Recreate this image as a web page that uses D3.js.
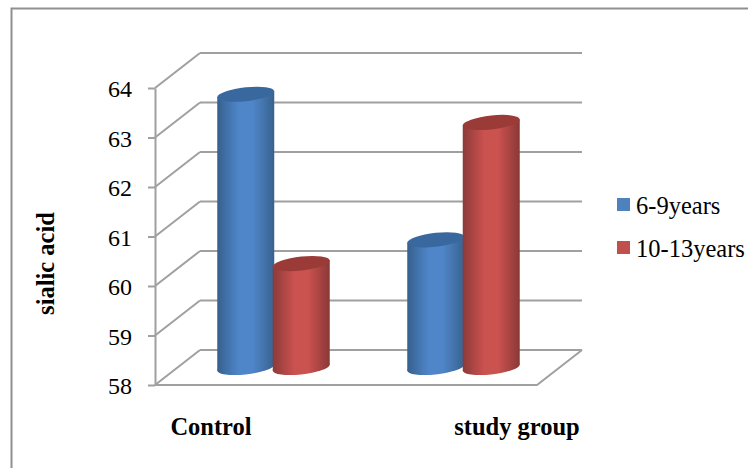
<!DOCTYPE html>
<html>
<head>
<meta charset="utf-8">
<script src="https://cdn.jsdelivr.net/npm/d3@7"></script>
<style>
  html, body { margin: 0; padding: 0; background: #fff; overflow: hidden; }
  text { font-family: "Liberation Serif", serif; fill: #000; }
</style>
</head>
<body>
<div id="chart"></div>
<script>
// DATA
const categories = ["Control", "study group"];
const seriesNames = ["6-9years", "10-13years"];
const youngValues = [63.52, 60.58];
const olderValues = [60.1, 62.95];
const tickValues = [58, 59, 60, 61, 62, 63, 64];

const width = 748, height = 468;
const gridColor = "#a0a0a0";

// fake 3d depth of the chart box
const depthX = 45, depthY = -35;

const svg = d3.select("#chart").append("svg")
  .attr("width", width)
  .attr("height", height);

const defs = svg.append("defs");

const seriesColors = [
  { side: ["#36608f", "#4f86c9", "#4f86c9", "#38628f"], top: "#38689e", key: "#4f81bd" },
  { side: ["#8c3a38", "#cb5250", "#cb5250", "#8a3836"], top: "#9a3a37", key: "#c0504d" }
];

seriesColors.forEach((c, i) => {
  const grad = defs.append("linearGradient").attr("id", "side" + i);
  grad.selectAll("stop")
    .data([0, 0.38, 0.62, 1])
    .join("stop")
    .attr("offset", d => d)
    .attr("stop-color", (d, j) => c.side[j]);
});

defs.append("filter").attr("id", "soft")
  .append("feGaussianBlur").attr("stdDeviation", 0.45);

// outer frame, only top and left show up
svg.append("path")
  .attr("d", `M11.5,${height} V8.5 H${width}`)
  .attr("fill", "none")
  .attr("stroke", "#8f8f8f")
  .attr("stroke-width", 2);

// SCALES
const y = d3.scaleLinear().domain([58, 64]).range([385, 88]);
const x = d3.scaleBand().domain(categories).range([156, 536]);
const barWidth = 57;
const inner = d3.scaleBand().domain(seriesNames).range([-55.5, 55.5]);

// WALLS
const walls = svg.append("g")
  .attr("fill", "none")
  .attr("stroke", gridColor)
  .attr("stroke-width", 2);

walls.selectAll(".back")
  .data(tickValues)
  .join("line")
  .attr("class", "back")
  .attr("x1", 155 + depthX)
  .attr("x2", 537 + depthX)
  .attr("y1", d => y(d) + depthY)
  .attr("y2", d => y(d) + depthY);

walls.selectAll(".side")
  .data(tickValues)
  .join("line")
  .attr("class", "side")
  .attr("x1", 155)
  .attr("x2", 155 + depthX)
  .attr("y1", d => y(d))
  .attr("y2", d => y(d) + depthY);

// floor front and right edge
walls.append("path")
  .attr("d", `M155,${y(58)} H537 l${depthX},${depthY}`);

// Y AXIS
const axis = svg.append("g")
  .attr("transform", "translate(155,0)")
  .call(d3.axisLeft(y).tickValues(tickValues).tickFormat(d3.format("d")).tickSize(7).tickPadding(16).tickSizeOuter(0));
axis.select(".domain").attr("stroke", gridColor).attr("stroke-width", 2);
axis.selectAll(".tick line").attr("stroke", gridColor).attr("stroke-width", 2);
axis.selectAll(".tick text")
  .attr("dy", "0.37em")
  .attr("font-size", 24)
  .attr("font-family", "Liberation Serif");

// BARS
const bars = [];
seriesNames.forEach((name, s) => {
  const vals = s === 0 ? youngValues : olderValues;
  categories.forEach((cat, c) => bars.push({ cat, name, s, value: vals[c] }));
});

const rx = barWidth / 2, ry = 7;
const cylinders = svg.append("g").attr("filter", "url(#soft)");

// skewing the whole group tilts lid, body and bottom together
const cyl = cylinders.selectAll("g")
  .data(bars)
  .join("g")
  .attr("transform", d => `translate(${x(d.cat) + x.bandwidth() / 2 + inner(d.name) + inner.bandwidth() / 2 + depthX / 2},0) skewY(-6)`);

// body
cyl.append("rect")
  .attr("x", -rx)
  .attr("width", barWidth)
  .attr("y", d => y(d.value) + depthY / 2)
  .attr("height", d => y(58) - y(d.value))
  .attr("fill", d => `url(#side${d.s})`);

// round bottom
cyl.append("ellipse")
  .attr("rx", rx)
  .attr("ry", ry)
  .attr("cy", y(58) + depthY / 2)
  .attr("fill", d => `url(#side${d.s})`);

// lid
cyl.append("ellipse")
  .attr("rx", rx)
  .attr("ry", ry)
  .attr("cy", d => y(d.value) + depthY / 2)
  .attr("fill", d => seriesColors[d.s].top);

// CATEGORY LABELS
svg.selectAll(".cat")
  .data(categories)
  .join("text")
  .attr("class", "cat")
  .attr("x", d => x(d) + x.bandwidth() / 2 + (d === "Control" ? -40 : 76))
  .attr("y", 435)
  .attr("text-anchor", "middle")
  .attr("font-weight", "bold")
  .attr("font-size", 24.5)
  .text(d => d);

// Y TITLE
svg.append("text")
  .attr("transform", "translate(54,263.5) rotate(-90)")
  .attr("text-anchor", "middle")
  .attr("font-weight", "bold")
  .attr("font-size", 24.5)
  .text("sialic acid");

// LEGEND
const legend = svg.selectAll(".legend")
  .data(seriesNames)
  .join("g")
  .attr("class", "legend")
  .attr("transform", (d, i) => `translate(617,${198 + i * 43})`);

legend.append("rect")
  .attr("width", 13)
  .attr("height", 13)
  .attr("fill", (d, i) => seriesColors[i].key);

legend.append("text")
  .attr("x", 19)
  .attr("y", 15.5)
  .attr("font-size", 24.5)
  .text(d => d);
</script>
</body>
</html>
